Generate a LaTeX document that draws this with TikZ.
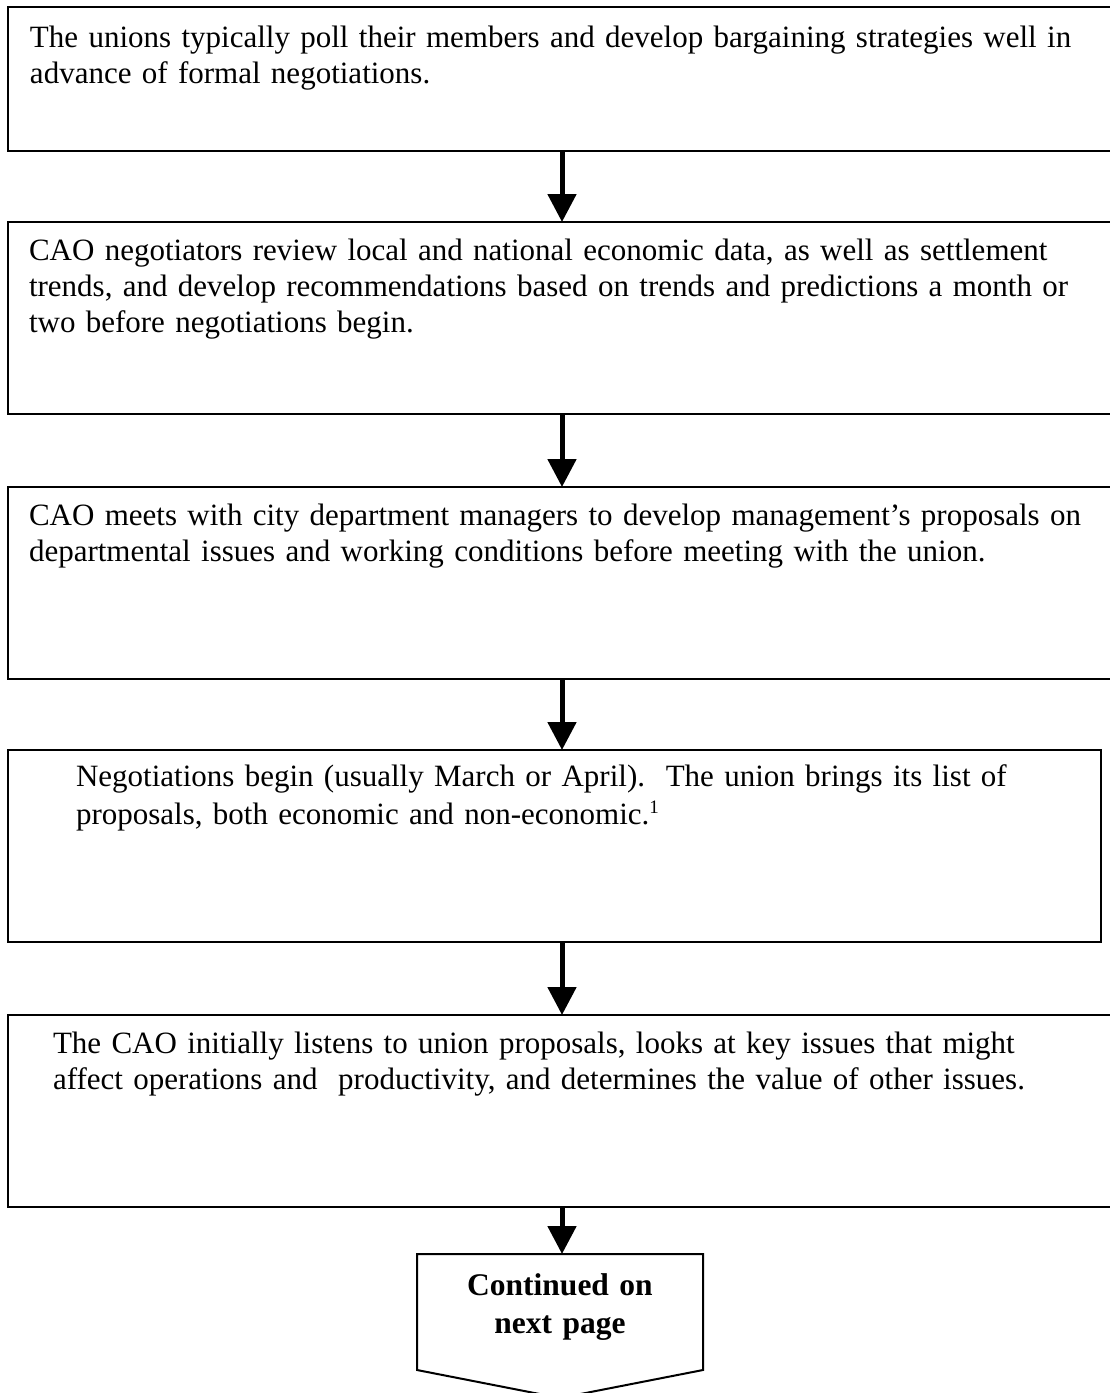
\documentclass[tikz,border=0pt]{standalone}
\usepackage{fontspec}
\setmainfont{Liberation Serif}
\usetikzlibrary{arrows.meta}
\begin{document}
\begin{tikzpicture}[x=1pt,y=-1pt,
  stepbox/.style={draw, line width=2pt, rectangle, outer sep=0pt, inner sep=0pt,
    anchor=north west, minimum height=192pt, minimum width=1108pt},
  txt/.style={anchor=base west, inner sep=0pt, outer sep=0pt, text width=1095pt,
    align=left, font=\fontsize{31.0}{36.2}\selectfont},
  arr/.style={line width=5pt, -{Triangle[width=28pt,length=28pt]}},
  contbox/.style={draw, line width=2pt, line join=miter},
  conttxt/.style={anchor=base, inner sep=0pt, outer sep=0pt, text width=280pt,
    align=center, font=\fontsize{31.5}{38}\selectfont\bfseries}
  ]
\useasboundingbox (0,0) rectangle (1110,1393);
\clip (0,0) rectangle (1110,1393);
\fill[white] (0,0) rectangle (1110,1393);

% boxes
\node[stepbox, minimum height=144pt] (b1) at (8,7) {};
\node[stepbox] (b2) at (8,222) {};
\node[stepbox] (b3) at (8,487) {};
\node[stepbox, minimum width=1093pt] (b4) at (8,750) {};
\node[stepbox] (b5) at (8,1015) {};

% texts
\node[txt] (t1) at (30,47) {The unions typically poll their members and develop bargaining strategies well in\\
advance of formal negotiations.};
\node[txt] (t2) at (29,260) {CAO negotiators review local and national economic data, as well as settlement\\
trends, and develop recommendations based on trends and predictions a month or\\
two before negotiations begin.};
\node[txt] (t3) at (29,525) {CAO meets with city department managers to develop management’s proposals on\\
departmental issues and working conditions before meeting with the union.};
\node[txt, font=\fontsize{31.0}{38.5}\selectfont] (t4) at (76,786) {Negotiations begin (usually March or April).\ \ The union brings its list of\\
proposals, both economic and non-economic.{\fontsize{19}{19}\selectfont\raisebox{11pt}{1}}};
\node[txt] (t5) at (53,1053) {The CAO initially listens to union proposals, looks at key issues that might\\
affect operations and\ \ productivity, and determines the value of other issues.};

% continuation shape
\coordinate (ctop) at (560,1254);
\draw[contbox] (417,1254) -- (703,1254) -- (703,1370) -- (560,1398) -- (417,1370) -- cycle;
\node[conttxt] (cont) at (560,1295) {Continued on\\next page};

% connectors
\draw[arr] (b1.south) -- (b2.north);
\draw[arr] (b2.south) -- (b3.north);
\draw[arr] (b3.south) -- (b3.south |- b4.north);
\draw[arr] (b4.south -| b3.south) -- (b5.north);
\draw[arr] (b5.south) -- (b5.south |- ctop);
\end{tikzpicture}
\end{document}
